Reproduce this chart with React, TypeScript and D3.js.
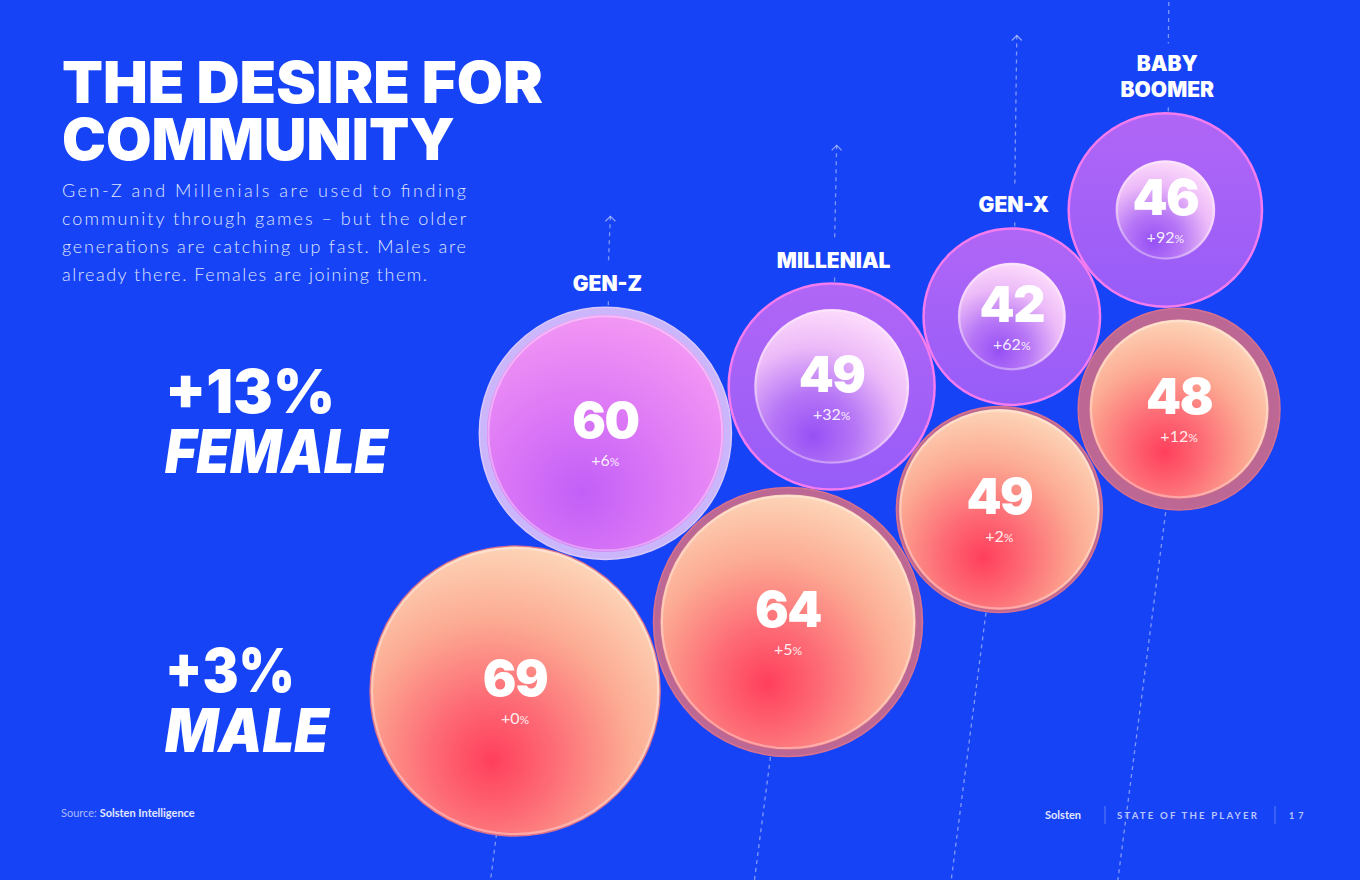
import React from 'react';
import * as d3 from 'd3';

// values
const generations = ['GEN-Z', 'MILLENIAL', 'GEN-X', 'BABY BOOMER'];
const femaleScores = [60, 49, 42, 46];
const femaleGrowth = [6, 32, 62, 92];
const maleScores = [69, 64, 49, 48];
const maleGrowth = [0, 5, 2, 12];
const genderLabels = ['FEMALE', 'MALE'];
const genderGrowth = [13, 3];

const W = 1360;
const H = 880;
const BG = '#1743f6';
const PAD = 2;
const HEAVY = "Inter, 'Roboto', sans-serif";

type Circle = { x: number; y: number; r: number };
type Bubble = Circle & { value: number; growth: number; inner: number; gender: 'female' | 'male'; gen: number };

// spot for a circle of radius r touching both a and b; pick chooses one of the two
function tangentTo(a: Circle, b: Circle, r: number, pick: (p: Circle, q: Circle) => Circle): Circle {
  const dx = b.x - a.x, dy = b.y - a.y;
  const d = Math.hypot(dx, dy);
  const da = a.r + r + PAD, db = b.r + r + PAD;
  const l = (da * da - db * db + d * d) / (2 * d);
  const h = Math.sqrt(Math.max(0, da * da - l * l));
  const ux = dx / d, uy = dy / d;
  const p = { x: a.x + l * ux - h * uy, y: a.y + l * uy + h * ux, r };
  const q = { x: a.x + l * ux + h * uy, y: a.y + l * uy - h * ux, r };
  return pick(p, q);
}

const upper = (p: Circle, q: Circle) => (p.y < q.y ? p : q);
const right = (p: Circle, q: Circle) => (p.x > q.x ? p : q);

const rScale = d3.scaleLinear().domain([0, 69]).range([0, 145]);
// arrow length above each female bubble follows its growth
const arrowScale = d3.scaleLinear().domain([0, 100]).range([80, 262]);

function layout() {
  const rf = femaleScores.map(v => rScale(v));
  const rm = maleScores.map(v => rScale(v));
  const M: Circle[] = [];
  const F: Circle[] = [];
  // millenial male bubble anchors the cluster, everything else is packed against it
  M[1] = { x: 788, y: 622, r: rm[1] };
  const ang = (165.8 * Math.PI) / 180;
  const d0 = rm[0] + rm[1] + PAD;
  M[0] = { x: M[1].x + d0 * Math.cos(ang), y: M[1].y + d0 * Math.sin(ang), r: rm[0] };
  F[0] = tangentTo(M[0], M[1], rf[0], upper);
  F[1] = tangentTo(F[0], M[1], rf[1], upper);
  for (let i = 2; i < generations.length; i++) {
    M[i] = tangentTo(M[i - 1], F[i - 1], rm[i], right);
    F[i] = tangentTo(F[i - 1], M[i], rf[i], upper);
  }
  const bubbles: Bubble[] = [];
  generations.forEach((g, i) => {
    bubbles.push({ ...F[i], value: femaleScores[i], growth: femaleGrowth[i],
      inner: rScale(femaleScores[i] / (1 + femaleGrowth[i] / 100)), gender: 'female', gen: i });
    bubbles.push({ ...M[i], value: maleScores[i], growth: maleGrowth[i],
      inner: rScale(maleScores[i] / (1 + maleGrowth[i] / 100)), gender: 'male', gen: i });
  });
  return { F, M, bubbles };
}

function BubbleMark({ b }: { b: Bubble }) {
  const female = b.gender === 'female';
  const small = b.growth < 10;
  let ringFill, ringStroke, innerFill;
  if (female) {
    ringFill = small ? '#cbb6fb' : 'url(#femaleRing)';
    ringStroke = small ? '#d9c8fc' : '#f47cef';
    innerFill = small ? 'url(#femaleSolid)' : 'url(#femaleInner)';
  } else {
    ringFill = '#bd6894';
    ringStroke = '#d8718d';
    innerFill = 'url(#maleFill)';
  }
  return (
    <g>
      <circle cx={b.x} cy={b.y} r={b.r} fill={ringFill} stroke={ringStroke} strokeWidth={female && !small ? 2.5 : 1.5} />
      <circle cx={b.x} cy={b.y} r={Math.max(b.inner - 0.5, 0)} fill={innerFill} />
      <circle cx={b.x} cy={b.y} r={Math.max(b.inner - 2, 0)} fill="none"
        stroke="rgba(255,255,255,0.35)" strokeWidth={2} />
      <text x={b.x} y={b.y + 5} textAnchor="middle" fill="#fff" letterSpacing={-1.5}
        style={{ fontFamily: HEAVY, fontWeight: 900, fontSize: 50 }}>{b.value}</text>
      <text x={b.x} y={b.y + 33} textAnchor="middle" fill="rgba(255,255,255,0.9)"
        style={{ fontFamily: 'Lato, sans-serif', fontWeight: 400, fontSize: 16 }}>
        +{b.growth}<tspan style={{ fontSize: 12 }}>%</tspan>
      </text>
    </g>
  );
}

export default function App() {
  const { F, M, bubbles } = layout();
  const tilt = 0.13;
  const dash = { stroke: 'rgba(255,255,255,0.45)', strokeWidth: 1.3, strokeDasharray: '4 4', fill: 'none' };

  const body = [
    'Gen-Z and Millenials are used to finding',
    'community through games \u2013 but the older',
    'generations are catching up fast. Males are',
    'already there. Females are joining them.',
  ];

  return (
    <svg width={W} height={H} style={{ position: 'fixed', left: 0, top: 0, display: 'block' }}>
      <defs>
        <radialGradient id="maleFill" cx="0.42" cy="0.72" r="0.72" fx="0.42" fy="0.74">
          <stop offset="0" stopColor="#ff3f5c" />
          <stop offset="0.3" stopColor="#fd6c76" />
          <stop offset="0.66" stopColor="#fcab93" />
          <stop offset="1" stopColor="#fdd3b6" />
        </radialGradient>
        <radialGradient id="femaleInner" cx="0.38" cy="0.8" r="0.78" fx="0.38" fy="0.82">
          <stop offset="0" stopColor="#9650f5" />
          <stop offset="0.35" stopColor="#b676f6" />
          <stop offset="0.72" stopColor="#ecbaf8" />
          <stop offset="1" stopColor="#fbd7fb" />
        </radialGradient>
        <radialGradient id="femaleSolid" cx="0.4" cy="0.75" r="0.8" fx="0.4" fy="0.75">
          <stop offset="0" stopColor="#c25ff7" />
          <stop offset="0.45" stopColor="#dc78f6" />
          <stop offset="1" stopColor="#f59af4" />
        </radialGradient>
        <linearGradient id="femaleRing" x1="0" y1="0" x2="0" y2="1">
          <stop offset="0" stopColor="#b066f6" />
          <stop offset="1" stopColor="#975cf8" />
        </linearGradient>
      </defs>

      <rect width={W} height={H} fill={BG} />

      {/* generation axes: arrow on top, dashed line down through both bubbles */}
      {generations.map((g, i) => {
        const f = F[i], m = M[i];
        const lines = g.split(' ');
        const lastBase = f.y - f.r - 16;
        const firstTop = lastBase - (lines.length - 1) * 26 - 18;
        const arrowY = f.y - f.r - arrowScale(femaleGrowth[i]);
        return (
          <g key={g}>
            {arrowY < firstTop - 10 && (
              <>
                <line x1={f.x + 5} y1={arrowY} x2={f.x + 3} y2={firstTop - 10} style={dash} />
                <path d={`M${f.x} ${arrowY + 5} L${f.x + 5} ${arrowY} L${f.x + 10} ${arrowY + 5}`}
                  fill="none" stroke="rgba(255,255,255,0.5)" strokeWidth={1.3} />
              </>
            )}
            <line x1={f.x + 3} y1={lastBase + 10} x2={f.x} y2={f.y} style={dash} />
            <line x1={m.x} y1={m.y} x2={m.x - tilt * (H + 10 - m.y)} y2={H + 10} style={dash} />
            <text x={f.x + 2} y={lastBase - (lines.length - 1) * 26} textAnchor="middle" fill="#fff"
              style={{ fontFamily: HEAVY, fontWeight: 900, fontSize: 21 }}>
              {lines.map((t, k) => (
                <tspan key={t} x={f.x + 2} dy={k === 0 ? 0 : 26}>{t}</tspan>
              ))}
            </text>
          </g>
        );
      })}

      {bubbles.map(b => <BubbleMark key={b.gender + b.gen} b={b} />)}

      {/* heading */}
      <text fill="#fff" style={{ fontFamily: HEAVY, fontWeight: 900, fontSize: 58 }}>
        <tspan x={62} y={103} textLength={481} lengthAdjust="spacingAndGlyphs">THE DESIRE FOR</tspan>
        <tspan x={62} y={160} textLength={393} lengthAdjust="spacingAndGlyphs">COMMUNITY</tspan>
      </text>
      <text fill="#dfe5ff" style={{ fontFamily: 'Lato, sans-serif', fontWeight: 300, fontSize: 18 }}>
        {body.map((t, i) => (
          <tspan key={i} x={62} y={197 + i * 28} textLength={i < 3 ? 404 : 365} lengthAdjust="spacing">{t}</tspan>
        ))}
      </text>

      {/* gender totals */}
      {genderLabels.map((g, i) => {
        const base = i === 0 ? 413 : 692;
        return (
          <text key={g} fill="#fff" style={{ fontFamily: HEAVY, fontWeight: 900, fontSize: 60 }}>
            <tspan x={165} y={base} textLength={i === 0 ? 170 : 130} lengthAdjust="spacingAndGlyphs">+{genderGrowth[i]}%</tspan>
            <tspan x={165} y={base + 60} textLength={i === 0 ? 223 : 164} lengthAdjust="spacingAndGlyphs"
              style={{ fontStyle: 'italic' }}>{g}</tspan>
          </text>
        );
      })}

      {/* footer */}
      <text x={61} y={817} style={{ fontFamily: 'Lato, sans-serif', fontSize: 11 }}>
        <tspan fill="#a9b8ff">Source: </tspan>
        <tspan fill="#e2e7ff" style={{ fontWeight: 700 }}>Solsten Intelligence</tspan>
      </text>
      <text x={1045} y={819} fill="#e2e7ff" style={{ fontFamily: 'Lato, sans-serif', fontWeight: 700, fontSize: 11 }}>Solsten</text>
      <line x1={1105} y1={806} x2={1105} y2={824} stroke="rgba(255,255,255,0.3)" />
      <text x={1117} y={819} fill="#bac6ff" textLength={142} lengthAdjust="spacingAndGlyphs"
        style={{ fontFamily: 'Lato, sans-serif', fontWeight: 700, fontSize: 9, letterSpacing: 2 }}>STATE OF THE PLAYER</text>
      <line x1={1275} y1={806} x2={1275} y2={824} stroke="rgba(255,255,255,0.3)" />
      <text x={1289} y={819} fill="#bac6ff" style={{ fontFamily: 'Lato, sans-serif', fontWeight: 700, fontSize: 9, letterSpacing: 4 }}>17</text>
    </svg>
  );
}
